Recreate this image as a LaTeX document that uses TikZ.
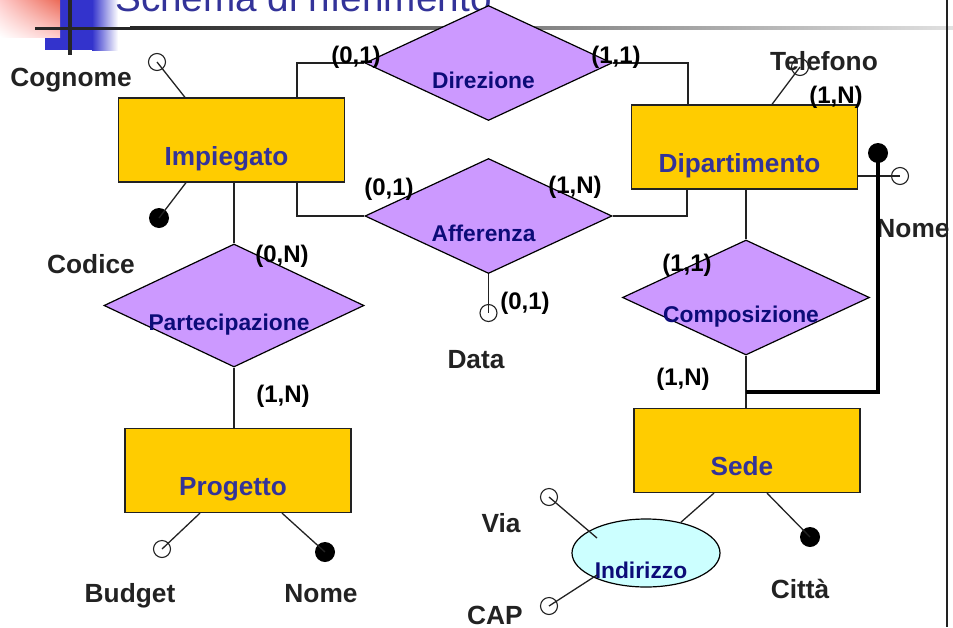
\documentclass[tikz,border=0pt]{standalone}
\usepackage{fontspec}
\setmainfont{Liberation Sans}
\definecolor{entfill}{HTML}{FFCC00}
\definecolor{relfill}{HTML}{CC99FF}
\definecolor{compfill}{HTML}{CCFFFF}
\definecolor{entblue}{HTML}{333399}
\definecolor{relnavy}{HTML}{0C0C78}
\definecolor{inkgray}{HTML}{222222}
\definecolor{logored}{HTML}{E8503A}
\definecolor{logoblue}{HTML}{3333CC}
\usetikzlibrary{shapes.geometric,shadings}
% text set below and a little left of the middle of its shape
\newcommand{\lowtext}[1]{\raisebox{-25pt}[0pt][0pt]{\makebox[0pt]{#1\hspace*{10pt}}}}

\begin{document}
\begin{tikzpicture}[x=1pt,y=-1pt,
    entity/.style={rectangle,draw=inkgray,fill=entfill,line width=1.2pt,
      minimum width=226pt,minimum height=84pt,text=entblue,
      font=\bfseries\fontsize{26.2}{27}\selectfont},
    relation/.style={diamond,aspect=2.15,draw=black,fill=relfill,line width=1.2pt,inner sep=0pt,
      minimum width=247pt,minimum height=115pt,text=relnavy,
      font=\bfseries\fontsize{22.8}{23}\selectfont},
    composite/.style={ellipse,draw=black,fill=compfill,line width=1.2pt,inner sep=0pt,
      minimum width=148pt,minimum height=68pt,text=relnavy,
      font=\bfseries\fontsize{22.8}{23}\selectfont},
    attr/.style={circle,draw=inkgray,line width=1.1pt,inner sep=0pt,minimum size=17pt},
    key/.style={circle,fill=black,inner sep=0pt,minimum size=20pt},
    link/.style={draw=inkgray,line width=1.3pt},
    idline/.style={draw=black,line width=3.5pt},
    lbl/.style={font=\bfseries\fontsize{26.3}{27}\selectfont,text=inkgray,anchor=base,inner sep=0pt},
    card/.style={font=\bfseries\fontsize{24}{24}\selectfont,text=black,anchor=base,inner sep=0pt}]
  \useasboundingbox (0,0) rectangle (953,627);
  \clip (0,0) rectangle (953,627);

  % Logo, title and frame
  \fill[logoblue] (45,0) rectangle (92,50);
  \shade[left color=logoblue,right color=white] (92,0) rectangle (118,50);
  \shade[upper left=red!20,upper right=logored!85,lower left=white,lower right=red!20] (0,0) rectangle (60,37);
  \fill[black!85] (68,0) rectangle (72,55);
  \fill[black!85] (35,26.5) rectangle (130,29.5);
  \shade[left color=black!85,right color=black!12] (130,26.5) rectangle (953,29.5);
  \node[font=\fontsize{38.7}{40}\selectfont,text=entblue,anchor=base west,inner sep=0pt]
    (title) at (115,11) {Schema di riferimento};
  \draw[inkgray,line width=2pt] (947,0) -- (947,627);

  % Entities
  \node[entity] (imp) at (231.5,140) {\lowtext{Impiegato}};
  \node[entity] (dip) at (744.5,147) {\lowtext{Dipartimento}};
  \node[entity] (prog) at (238,470.5) {\lowtext{Progetto}};
  \node[entity] (sede) at (747,450.5) {\lowtext{Sede}};

  % Relationships
  \node[relation] (dir) at (488.5,63) {\lowtext{Direzione}};
  \node[relation] (aff) at (488.5,216) {\lowtext{Afferenza}};
  \node[relation,minimum width=260pt,minimum height=123pt] (part) at (234,305.5) {\lowtext{Partecipazione}};
  \node[relation] (comp) at (746,297.5) {\lowtext{Composizione}};
  \node[composite] (ind) at (646,553) {\lowtext{Indirizzo}};

  % Links between entities and relationships
  \draw[link] (dir.west) -| ([xshift=65.5pt]imp.north);
  \draw[link] (dir.east) -| ([xshift=-56.5pt]dip.north);
  \draw[link] (aff.west) -| ([xshift=65.5pt]imp.south);
  \draw[link] (aff.east) -| ([xshift=-57.5pt]dip.south);
  \draw[link] (part.north) -- (part.north |- imp.south);
  \draw[link] (part.south) -- (part.south |- prog.north);
  \draw[link] (comp.north) -- (comp.north |- dip.south);
  \draw[link] (comp.south) -- (comp.south |- sede.north);

  % Attribute labels
  \node[lbl] (cog) at (71,86) {Cognome};
  \node[lbl] (cod) at (91,273) {Codice};
  \node[lbl] (tel) at (824,70) {Telefono};
  \node[lbl] (nomed) at (913,237) {Nome};
  \node[lbl] (data) at (476,368) {Data};
  \node[lbl] (bud) at (130,602) {Budget};
  \node[lbl] (nomep) at (321,602) {Nome};
  \node[lbl] (via) at (501,532) {Via};
  \node[lbl] (cap) at (495,624) {CAP};
  \node[lbl] (citta) at (800,598) {Città};

  % Attributes
  \node[attr] (cogc) at (157,62) {};
  \node[key] (codc) at (159,218) {};
  \node[attr] (telc) at (800,67) {};
  \node[attr] (nomedc) at (900,176) {};
  \node[key] (nomeid) at (878,153) {};
  \node[attr] (datac) at (488.5,313) {};
  \node[attr] (budc) at (162,549) {};
  \node[key] (nomepc) at (325,552) {};
  \node[key] (cittac) at (810,537) {};
  \node[attr] (viac) at (549,497) {};
  \node[attr] (capc) at (549,606) {};
  \coordinate (idj) at (746,392);

  \draw[link] (cogc.center) -- ([xshift=-46.5pt]imp.north);
  \draw[link] (codc.center) -- ([xshift=-45.5pt]imp.south);
  \draw[link] (telc.center) -- ([xshift=27.5pt]dip.north);
  \draw[link] (nomedc.center) -- (dip.east |- nomedc);
  \draw[link] (aff.south) -- (datac.center);
  \draw[link] (budc.center) -- ([xshift=-38pt]prog.south);
  \draw[link] (nomepc.center) -- ([xshift=44pt]prog.south);
  \draw[link] (cittac.center) -- ([xshift=20pt]sede.south);
  \draw[link] (ind) -- ([xshift=-33pt]sede.south);
  \draw[link] (viac.center) -- ([xshift=-49pt,yshift=15pt]ind.center);
  \draw[link] (capc.center) -- ([xshift=-49pt,yshift=-22pt]ind.center);
  \draw[idline] (idj) -| (nomeid.center);

  % Cardinalities
  \node[card] (dir1) at (356,63) {(0,1)};
  \node[card] (dir2) at (616,63) {(1,1)};
  \node[card] (aff1) at (389,195) {(0,1)};
  \node[card] (aff2) at (575,193) {(1,N)};
  \node[card] (aff3) at (525,309) {(0,1)};
  \node[card] (part1) at (282,262) {(0,N)};
  \node[card] (part2) at (283,402) {(1,N)};
  \node[card] (comp1) at (687,271) {(1,1)};
  \node[card] (comp2) at (683,385) {(1,N)};
  \node[card] (tel1) at (836,103) {(1,N)};
\end{tikzpicture}
\end{document}
